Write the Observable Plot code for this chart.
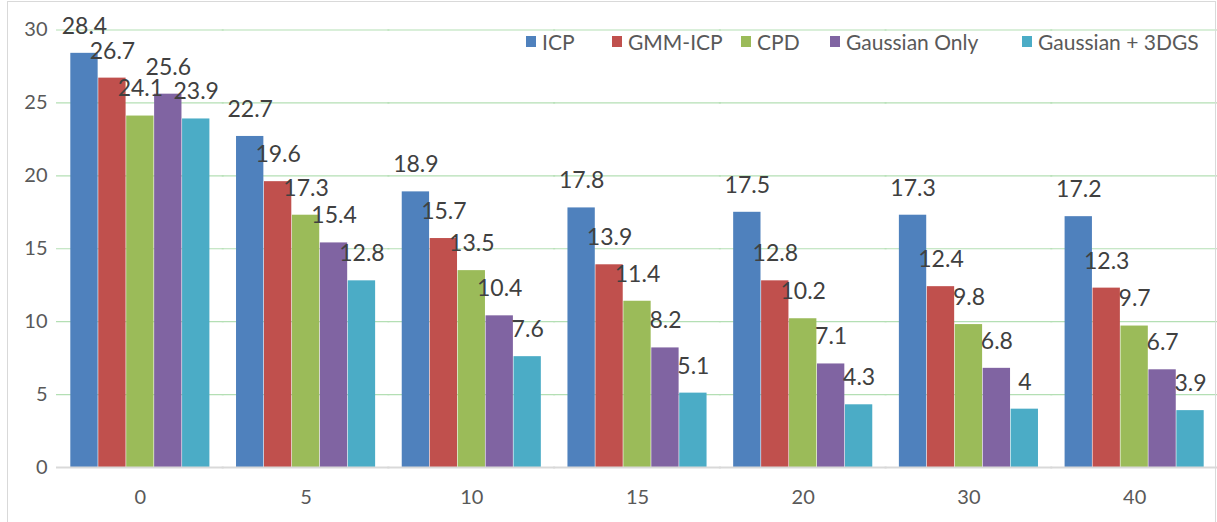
<!DOCTYPE html>
<html>
<head>
<meta charset="utf-8">
<script src="https://cdn.jsdelivr.net/npm/d3@7"></script>
<script src="https://cdn.jsdelivr.net/npm/@observablehq/plot@0.6"></script>
<style>
  html, body { margin: 0; padding: 0; background: #fff; }
  #wrap { position: relative; width: 1217px; height: 522px; overflow: hidden; }
  #border { position: absolute; left: 7px; top: 1px; width: 1209px; height: 600px; border: 1px solid #d9d9d9; box-sizing: border-box; pointer-events: none; }
  #legend { position: absolute; left: 0; top: 30px; width: 1217px; height: 22px; font-family: Lato, sans-serif; font-size: 21px; color: #595959; }
  #legend .item { position: absolute; top: 0; height: 22px; display: flex; align-items: center; white-space: nowrap; }
  #legend .sw { width: 10px; height: 11px; margin-right: 6px; }
  svg { position: absolute; left: 0; top: 0; }
</style>
</head>
<body>
<div id="wrap">
  <div id="chart"></div>
  <div id="legend"></div>
  <div id="border"></div>
</div>
<script>
const categories = ["0", "5", "10", "15", "20", "30", "40"];
const seriesNames = ["ICP", "GMM-ICP", "CPD", "Gaussian Only", "Gaussian + 3DGS"];
const seriesColors = ["#4F81BD", "#C0504D", "#9BBB59", "#8064A2", "#4BACC6"];
const icp = [28.4, 22.7, 18.9, 17.8, 17.5, 17.3, 17.2];
const gmmIcp = [26.7, 19.6, 15.7, 13.9, 12.8, 12.4, 12.3];
const cpd = [24.1, 17.3, 13.5, 11.4, 10.2, 9.8, 9.7];
const gaussianOnly = [25.6, 15.4, 10.4, 8.2, 7.1, 6.8, 6.7];
const gaussian3dgs = [23.9, 12.8, 7.6, 5.1, 4.3, 4, 3.9];
const yTicks = [0, 5, 10, 15, 20, 25, 30];
const legendLeft = [526, 612, 741, 830, 1022];

const seriesValues = [icp, gmmIcp, cpd, gaussianOnly, gaussian3dgs];
const data = [];
categories.forEach((c, i) => {
  seriesNames.forEach((s, j) => {
    data.push({cat: c, series: s, value: seriesValues[j][i]});
  });
});

const gridTicks = yTicks.filter(t => t > 0);

const chart = Plot.plot({
  width: 1217,
  height: 522,
  marginTop: 29.5,
  marginBottom: 55,
  marginLeft: 57,
  marginRight: 0,
  style: {fontFamily: "Lato, sans-serif", fontSize: "20px", color: "#595959", background: "transparent"},
  facet: {data, x: "cat"},
  fx: {domain: categories, paddingInner: 0.157, paddingOuter: 0.0785, round: false, axis: "bottom", label: null, tickSize: 0, tickPadding: 22},
  x: {domain: seriesNames, padding: 0, round: false, axis: null},
  y: {domain: [0, 30], ticks: yTicks, tickSize: 0, tickPadding: 23, label: null, tickFormat: d => String(d)},
  color: {domain: seriesNames, range: seriesColors},
  marks: [
    Plot.ruleY(gridTicks, {stroke: "#b4dfb4", strokeWidth: 1.2, insetLeft: -14, insetRight: -14}),
    Plot.barY(data, {x: "series", y: "value", fill: "series", insetLeft: 0.3, insetRight: 0.3}),
    Plot.ruleY([0], {stroke: "#d9d9d9", strokeWidth: 2, insetLeft: -14, insetRight: -14}),
    Plot.text(data, {x: "series", y: "value", text: d => String(d.value), dy: -27, fontSize: 23, fill: "#404040"})
  ]
});
document.getElementById("chart").appendChild(chart);

const legend = document.getElementById("legend");
seriesNames.forEach((s, j) => {
  const item = document.createElement("div");
  item.className = "item";
  item.style.left = legendLeft[j] + "px";
  const sw = document.createElement("div");
  sw.className = "sw";
  sw.style.background = seriesColors[j];
  const label = document.createElement("span");
  label.textContent = s;
  item.appendChild(sw);
  item.appendChild(label);
  legend.appendChild(item);
});
</script>
</body>
</html>
